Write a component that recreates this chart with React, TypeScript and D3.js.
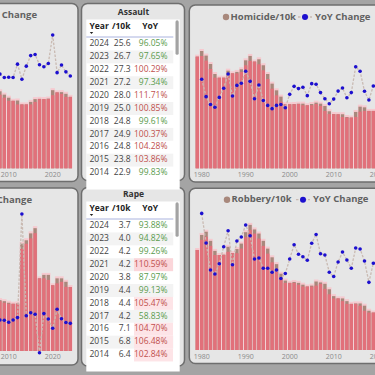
import React from "react";
import * as d3 from "d3";

// ---------- DATA ----------
const assaultYears = [2008, 2009, 2010, 2011, 2012, 2013, 2014, 2015, 2016, 2017, 2018, 2019, 2020, 2021, 2022, 2023, 2024];
const assaultRate = [27.6, 26.4, 25.3, 24.2, 24.3, 22.9, 22.9, 23.8, 24.8, 24.9, 24.8, 25.0, 28.0, 27.2, 27.3, 26.7, 25.6];
const assaultYoY = [96.8, 95.5, 95.6, 95.5, 100.6, 94.8, 99.83, 103.86, 104.28, 100.37, 99.61, 100.85, 111.71, 97.34, 100.29, 97.65, 96.05];

const rapeYears = [2008, 2009, 2010, 2011, 2012, 2013, 2014, 2015, 2016, 2017, 2018, 2019, 2020, 2021, 2022, 2023, 2024];
const rapeRate = [2.94, 2.88, 2.79, 2.73, 2.75, 6.2, 6.4, 6.8, 7.1, 4.2, 4.4, 4.4, 3.8, 4.2, 4.2, 4.0, 3.7];
const rapeYoY = [97.9, 97.5, 95.1, 97.9, 100.7, 224.0, 102.84, 106.48, 104.7, 58.83, 105.47, 99.13, 87.97, 110.59, 99.26, 94.82, 93.88];

const longYears = [1979, 1980, 1981, 1982, 1983, 1984, 1985, 1986, 1987, 1988, 1989, 1990, 1991, 1992, 1993, 1994, 1995, 1996, 1997, 1998, 1999, 2000, 2001, 2002, 2003, 2004, 2005, 2006, 2007, 2008, 2009, 2010, 2011, 2012, 2013, 2014, 2015, 2016, 2017, 2018, 2019];
const homicideRate = [0.971, 1.02, 0.98, 0.907, 0.82, 0.788, 0.788, 0.849, 0.826, 0.838, 0.861, 0.939, 0.977, 0.928, 0.948, 0.896, 0.82, 0.736, 0.678, 0.623, 0.557, 0.557, 0.559, 0.562, 0.562, 0.548, 0.559, 0.571, 0.562, 0.542, 0.496, 0.472, 0.47, 0.47, 0.446, 0.441, 0.49, 0.536, 0.53, 0.499, 0.499];
const homicideYoY = [null, 105.1, 96.0, 91.9, 90.4, 95.6, 100.4, 107.9, 96.3, 101.9, 103.0, 109.3, 104.0, 94.9, 102.1, 94.0, 91.4, 89.7, 91.4, 91.9, 90.2, 97.2, 101.4, 100.2, 100.9, 96.5, 102.8, 102.5, 98.1, 94.9, 92.3, 94.7, 98.9, 100.5, 95.4, 98.1, 111.7, 109.3, 98.8, 94.2, 101.6];
const robberyRate = [2.19, 2.52, 2.59, 2.39, 2.17, 2.08, 2.09, 2.26, 2.12, 2.21, 2.33, 2.58, 2.74, 2.64, 2.55, 2.39, 2.22, 2.03, 1.88, 1.67, 1.52, 1.47, 1.49, 1.47, 1.43, 1.39, 1.41, 1.5, 1.48, 1.45, 1.33, 1.18, 1.13, 1.13, 1.07, 1.01, 1.02, 1.02, 0.97, 0.86, 0.82];
const robberyYoY = [null, 115.0, 103.2, 92.4, 90.8, 94.9, 101.7, 108.1, 94.5, 104.0, 105.6, 110.4, 106.1, 96.8, 97.2, 93.1, 93.1, 91.5, 92.4, 89.0, 91.0, 96.8, 102.5, 98.7, 97.7, 96.3, 103.1, 106.6, 98.9, 98.4, 91.5, 89.8, 95.6, 99.6, 96.4, 93.1, 101.2, 100.8, 96.0, 87.5, 95.1];

const shortTicks = [2010, 2020];
const longTicks = [1980, 1990, 2000, 2010, 2020];
const tableHeaders = ["Year", "/10k", "YoY"];

// ---------- STYLE ----------
const FONT = "'Open Sans', 'DejaVu Sans', sans-serif";
const BG = "#a4a4a4";
const PANEL = "#e6e6e6";
const BORDER = "#6e6e6e";
const BROWN = "#a8887c";
const RED = "#e2707a";
const HALO = "#f6c9cf";
const DOT = "#1c0fcf";
const DASH = "#c9bab2";
const GREEN = "#5a9b4e";
const REDTXT = "#c0504d";

type ComboProps = {
  id: string;
  years: number[];
  rate: number[];
  yoy: (number | null)[];
  x: d3.ScaleLinear<number, number>;
  y: d3.ScaleLinear<number, number>;
  y2: d3.ScaleLinear<number, number>;
  ticks: number[];
  tickY: number;
  clip: { x: number; y: number; w: number; h: number };
};

function Combo({ id, years, rate, yoy, x, y, y2, ticks, tickY, clip }: ComboProps) {
  const step = x(years[1]) - x(years[0]);
  const bw = step * 0.76;
  const base = y(0);
  const pts = years.map((yr, i) => ({ yr, v: yoy[i] }));
  const line = d3
    .line<{ yr: number; v: number | null }>()
    .defined((d) => d.v != null)
    .x((d) => x(d.yr))
    .y((d) => y2(d.v as number));
  return (
    <g clipPath={`url(#${id})`}>
      <defs>
        <clipPath id={id}>
          <rect x={clip.x} y={clip.y} width={clip.w} height={clip.h} />
        </clipPath>
      </defs>
      {years.map((yr, i) => (
        <rect key={"h" + yr} x={x(yr) - step / 2} y={y(rate[i]) - 2} width={step} height={base - y(rate[i]) + 2} fill={HALO} />
      ))}
      {years.map((yr, i) => (
        <rect key={"b" + yr} x={x(yr) - bw / 2} y={y(rate[i])} width={bw} height={base - y(rate[i])} fill={BROWN} />
      ))}
      {years.map((yr, i) => {
        const lo = Math.min(rate[i], rate[i - 1] ?? rate[i], rate[i + 1] ?? rate[i]);
        const top = Math.min(y(lo), y(rate[i]) + 5);
        return <rect key={"r" + yr} x={x(yr) - bw / 2} y={top} width={bw} height={base - top} fill={RED} />;
      })}
      <path d={line(pts) || ""} fill="none" stroke={DASH} strokeWidth={1.3} strokeDasharray="2.5,1.5" />
      {pts
        .filter((d) => d.v != null)
        .map((d) => (
          <circle key={"d" + d.yr} cx={x(d.yr)} cy={y2(d.v as number)} r={1.8} fill={DOT} />
        ))}
      {ticks.map((t) => (
        <text key={"t" + t} x={x(t)} y={tickY} textAnchor="middle" dominantBaseline="middle" fontSize={7} fill="#8a8a8a" fontFamily={FONT}>
          {t}
        </text>
      ))}
    </g>
  );
}

type TableProps = {
  title: string;
  T: number;
  years: number[];
  rate: number[];
  yoy: number[];
  pink: boolean;
};

function Table({ title, T, years, rate, yoy, pink }: TableProps) {
  const rows = years
    .map((yr, i) => ({ yr, r: rate[i], p: yoy[i] }))
    .filter((d) => d.yr >= 2014)
    .reverse();
  const rowY = d3.scaleLinear().domain([0, 1]).range([T + 24.5, T + 24.5 + 12.9]);
  return (
    <g fontFamily={FONT}>
      <text x={133.5} y={T - 7} textAnchor="middle" dominantBaseline="middle" fontSize={8.5} fontWeight={700} fill="#333">
        {title}
      </text>
      <rect x={86.3} y={T} width={93.4} height={170} fill="#fff" />
      {rows.map((d, i) =>
        i % 2 === 1 ? <rect key={"s" + d.yr} x={86.3} y={rowY(i) - 6.45} width={87} height={12.9} fill="#f3f3f3" /> : null
      )}
      {pink &&
        rows.map((d, i) =>
          d.p > 102 ? (
            <rect key={"p" + d.yr} x={134} y={rowY(i) - 6.45} width={39} height={12.9} fill={d.p > 108 ? "#fbd6da" : "#fde4e7"} />
          ) : null
        )}
      <text x={89.5} y={T + 7} dominantBaseline="middle" fontSize={8.5} fontWeight={700} fill="#222">
        {tableHeaders[0]}
      </text>
      <text x={130.5} y={T + 7} textAnchor="end" dominantBaseline="middle" fontSize={8.5} fontWeight={700} fill="#222">
        {tableHeaders[1]}
      </text>
      <text x={158} y={T + 7} textAnchor="end" dominantBaseline="middle" fontSize={8.5} fontWeight={700} fill="#222">
        {tableHeaders[2]}
      </text>
      <path d={`M89.8,${T + 12.6} L93.2,${T + 12.6} L91.5,${T + 14.6} Z`} fill="#222" />
      <line x1={86.3} x2={173.3} y1={T + 17.5} y2={T + 17.5} stroke="#aab3de" strokeWidth={1} />
      {rows.map((d, i) => (
        <g key={"row" + d.yr}>
          <text x={89.5} y={rowY(i)} dominantBaseline="middle" fontSize={8.5} fill="#444">
            {d.yr}
          </text>
          <text x={130.7} y={rowY(i)} textAnchor="end" dominantBaseline="middle" fontSize={8.5} fill="#444">
            {d.r.toFixed(1)}
          </text>
          <text x={167.5} y={rowY(i)} textAnchor="end" dominantBaseline="middle" fontSize={8.5} fill={d.p > 100 ? REDTXT : GREEN}>
            {d.p.toFixed(2) + "%"}
          </text>
        </g>
      ))}
      <rect x={175.5} y={T + 0.8} width={3.2} height={34.5} rx={1.6} fill="#a3a3a3" />
    </g>
  );
}

function Legend({ x0, y, label }: { x0: number; y: number; label: string }) {
  return (
    <g fontFamily={FONT} fontSize={9.5} fontWeight={700} fill="#616161">
      <circle cx={x0} cy={y} r={3.2} fill={BROWN} />
      <text x={x0 + 4.5} y={y} dominantBaseline="middle">
        {label}
      </text>
    </g>
  );
}

function YoYLegend({ cx, y, anchorEnd }: { cx: number; y: number; anchorEnd?: number }) {
  if (anchorEnd != null) {
    return (
      <text x={anchorEnd} y={y} textAnchor="end" dominantBaseline="middle" fontFamily={FONT} fontSize={9.5} fontWeight={700} fill="#616161">
        YoY Change
      </text>
    );
  }
  return (
    <g>
      <line x1={cx - 7} x2={cx + 7} y1={y} y2={y} stroke={DASH} strokeWidth={1.3} strokeDasharray="2.5,1.5" />
      <circle cx={cx} cy={y} r={3} fill={DOT} />
      <text x={cx + 10} y={y} dominantBaseline="middle" fontFamily={FONT} fontSize={9.5} fontWeight={700} fill="#616161">
        YoY Change
      </text>
    </g>
  );
}

export default function App() {
  const xShort = d3.scaleLinear().domain([2010, 2020]).range([8.7, 52.7]);
  const xLong = d3.scaleLinear().domain([1980, 2020]).range([201.7, 377.7]);

  const yAssault = d3.scaleLinear().domain([0, 30]).range([168.3, 84.6]);
  const y2Assault = d3.scaleLinear().domain([90, 115]).range([91.9, 26.4]);
  const yRape = d3.scaleLinear().domain([0, 8]).range([351, 212.6]);
  const y2Rape = d3.scaleLinear().domain([50, 230]).range([360.2, 209]);
  const yHom = d3.scaleLinear().domain([0, 1]).range([168.3, 53.3]);
  const y2Hom = d3.scaleLinear().domain([85, 115]).range([117.6, 60.4]);
  const yRob = d3.scaleLinear().domain([0, 3]).range([350, 213]);
  const y2Rob = d3.scaleLinear().domain([85, 115]).range([288.6, 213.4]);

  const panel = (x: number, y: number, w: number, h: number, key: string) => (
    <rect key={key} x={x} y={y} width={w} height={h} rx={6} fill={PANEL} stroke={BORDER} strokeWidth={1.5} />
  );

  return (
    <svg width={375} height={375} style={{ position: "absolute", left: 0, top: 0 }}>
      <rect x={0} y={0} width={375} height={375} fill={BG} />
      {panel(-20, 3.5, 98, 178, "p1")}
      {panel(81.5, 3.5, 103, 177, "p2")}
      {panel(189.3, 5, 200, 177, "p3")}
      {panel(-20, 188, 98, 177, "p4")}
      {panel(81.5, 187.5, 103, 178.5, "p5")}
      {panel(189.3, 188.3, 200, 175.2, "p6")}

      <Combo id="c1" years={assaultYears} rate={assaultRate} yoy={assaultYoY} x={xShort} y={yAssault} y2={y2Assault} ticks={shortTicks} tickY={175} clip={{ x: -20, y: 4, w: 97, h: 177 }} />
      <YoYLegend cx={0} y={15} anchorEnd={37} />

      <Combo id="c4" years={rapeYears} rate={rapeRate} yoy={rapeYoY} x={xShort} y={yRape} y2={y2Rape} ticks={shortTicks} tickY={357.5} clip={{ x: -20, y: 189, w: 97, h: 175 }} />
      <YoYLegend cx={0} y={200} anchorEnd={32} />

      <Combo id="c3" years={longYears} rate={homicideRate} yoy={homicideYoY} x={xLong} y={yHom} y2={y2Hom} ticks={longTicks} tickY={175} clip={{ x: 190, y: 6, w: 200, h: 175 }} />
      <Legend x0={226} y={17} label="Homicide/10k" />
      <YoYLegend cx={305} y={17} />

      <Combo id="c6" years={longYears} rate={robberyRate} yoy={robberyYoY} x={xLong} y={yRob} y2={y2Rob} ticks={longTicks} tickY={357} clip={{ x: 190, y: 189, w: 200, h: 174 }} />
      <Legend x0={227} y={199.7} label="Robbery/10k" />
      <YoYLegend cx={303} y={199.7} />

      <Table title="Assault" T={19.5} years={assaultYears} rate={assaultRate} yoy={assaultYoY} pink={false} />
      <Table title="Rape" T={201.5} years={rapeYears} rate={rapeRate} yoy={rapeYoY} pink />
    </svg>
  );
}
